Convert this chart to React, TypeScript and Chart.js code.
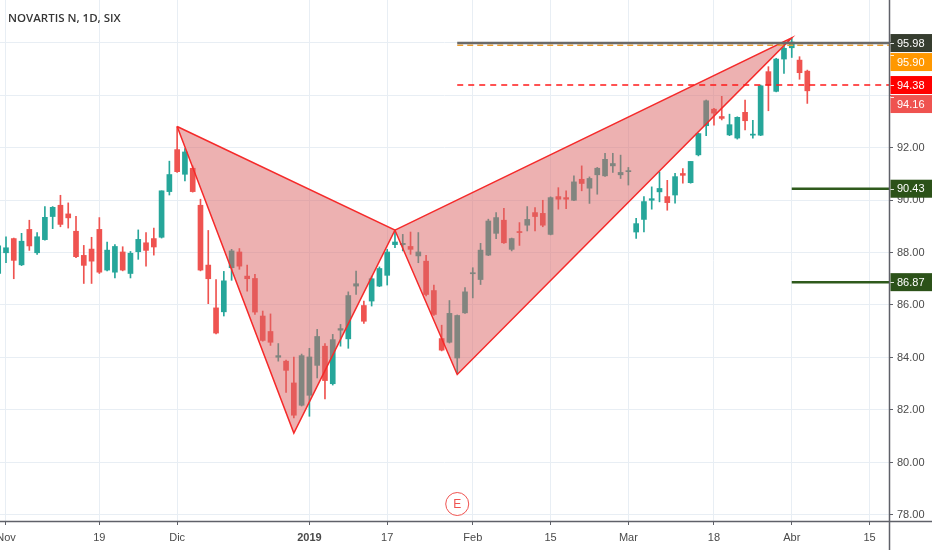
import React, { useEffect, useRef } from "react";
import { Chart, registerables } from "chart.js";

Chart.register(...registerables);

// ---- Data (trading-day index, 0 = 1 Nov 2018) ----
const FIRST_INDEX = -1;
const OPEN = [
  87.2, 87.99, 88.53, 87.53, 88.88, 87.99, 88.49, 89.37, 89.8, 89.47, 88.81, 87.89, 88.13, 88.88, 87.33, 87.25,
  88.02, 87.2, 88.03, 88.37, 88.53, 88.58, 90.32, 91.92, 90.98, 91.21, 89.8, 87.52, 85.89, 85.74, 87.42, 88.02,
  87.1, 87.01, 85.58, 84.99, 84.01, 83.86, 83.03, 82.18, 82.56, 83.7, 84.43, 83.0, 85.04, 84.71, 86.72, 85.98,
  86.15, 86.72, 87.13, 88.3, 88.3, 88.23, 87.87, 87.67, 86.55, 84.72, 84.58, 83.98, 85.7, 87.19, 86.97, 87.9,
  88.73, 89.23, 88.12, 88.79, 89.04, 89.52, 89.49, 88.69, 90.13, 90.09, 89.99, 90.79, 90.45, 90.96, 90.92, 91.3,
  90.96, 91.08, 88.78, 89.26, 89.99, 90.31, 90.13, 90.19, 91.01, 90.66, 91.72, 92.83, 93.46, 93.18, 92.48, 92.36,
  93.34, 92.47, 92.47, 94.89, 94.14, 95.37, 95.8, 95.33, 94.91,
];
const HIGH = [
  88.4, 88.6, 88.55, 88.73, 89.23, 88.76, 89.75, 89.75, 90.18, 89.89, 89.38, 88.27, 88.58, 89.33, 88.4, 88.3,
  88.22, 88.04, 88.86, 88.76, 88.93, 90.35, 91.48, 92.8, 91.96, 91.3, 90.03, 88.84, 86.97, 87.28, 88.12, 88.15,
  87.52, 87.17, 85.77, 85.66, 84.53, 83.9, 84.02, 84.13, 84.35, 85.07, 84.53, 84.88, 85.26, 86.5, 87.29, 86.15,
  87.1, 87.45, 88.12, 88.85, 88.69, 88.78, 88.76, 87.89, 86.76, 85.23, 86.17, 85.62, 86.66, 87.42, 88.35, 89.27,
  89.52, 89.68, 88.55, 89.14, 89.75, 89.71, 89.99, 90.12, 90.47, 90.35, 90.92, 91.3, 90.88, 91.24, 91.78, 91.78,
  91.71, 91.24, 89.3, 90.13, 90.5, 91.07, 90.75, 91.02, 91.2, 91.47, 92.55, 93.81, 93.49, 93.95, 93.27, 93.17,
  93.81, 93.04, 94.38, 95.08, 95.4, 95.94, 96.16, 95.46, 94.95,
];
const LOW = [
  86.9, 87.61, 87.0, 87.5, 88.08, 87.93, 88.47, 88.91, 88.98, 88.93, 87.8, 86.82, 86.82, 87.2, 87.3, 87.03,
  87.3, 87.03, 87.74, 87.48, 87.9, 88.55, 90.19, 91.05, 90.73, 90.3, 87.3, 86.05, 84.9, 85.58, 86.94, 87.36,
  86.53, 85.64, 84.62, 84.46, 83.86, 82.67, 81.7, 82.15, 81.76, 83.22, 82.42, 82.95, 84.43, 84.35, 86.4, 85.3,
  85.96, 86.7, 86.76, 88.18, 88.06, 87.93, 87.61, 86.35, 85.6, 84.25, 84.55, 83.4, 85.68, 86.27, 86.78, 87.88,
  88.53, 88.35, 88.06, 88.27, 88.82, 88.82, 88.98, 88.67, 89.65, 89.67, 89.97, 90.35, 89.87, 90.22, 90.9, 91.05,
  90.82, 90.57, 88.54, 88.78, 89.65, 89.93, 89.61, 89.88, 90.64, 90.64, 91.68, 92.45, 92.85, 93.05, 92.45, 92.32,
  92.67, 92.36, 92.45, 93.4, 94.12, 94.82, 95.43, 94.6, 93.68,
];
const CLOSE = [
  88.25, 88.18, 87.7, 88.43, 88.25, 88.6, 89.34, 89.72, 89.07, 89.32, 87.84, 87.51, 87.67, 87.25, 88.09, 88.23,
  87.33, 87.97, 88.5, 88.08, 88.21, 90.35, 90.97, 91.08, 91.83, 90.32, 87.33, 87.0, 84.93, 86.92, 88.06, 87.48,
  87.0, 85.73, 84.65, 84.58, 84.07, 83.51, 81.8, 84.07, 84.02, 84.8, 83.12, 84.68, 85.1, 86.36, 86.81, 85.38,
  87.0, 87.39, 88.02, 88.4, 88.35, 88.12, 88.02, 86.4, 85.64, 84.28, 85.68, 85.6, 86.5, 87.23, 88.09, 89.2,
  89.33, 88.37, 88.53, 88.76, 89.26, 89.37, 89.04, 90.09, 90.03, 90.03, 90.69, 90.63, 90.82, 91.21, 91.55, 91.39,
  91.05, 91.11, 89.1, 89.94, 90.05, 90.44, 89.9, 90.89, 90.94, 91.47, 92.53, 93.78, 93.31, 93.11, 92.87, 93.15,
  93.02, 92.51, 94.35, 94.38, 95.37, 95.78, 96.02, 94.85, 94.16,
];

const X_TICKS = [0, 12, 22, 39, 49, 60, 70, 80, 91, 101, 111];
const X_LABELS = ["Nov", "19", "Dic", "2019", "17", "Feb", "15", "Mar", "18", "Abr", "15"];
const Y_TICKS = [78, 80, 82, 84, 86, 88, 90, 92, 94, 96];
const Y_HIDDEN = [94, 96];

// XABCD pattern points
const PATTERN_X = [22, 37, 50, 58, 101];
const PATTERN_Y = [92.8, 81.12, 88.85, 83.35, 96.18];

// Horizontal levels
const LEVEL_VALUES = [95.98, 95.9, 94.38, 94.16, 90.43, 86.87];
const LEVEL_START = [58, 58, 58, null, 101, 101];
const EARNINGS_X = [58];

// ---- Styles ----
const X_MIN = -0.77;
const X_MAX = 113.5;
const Y_MIN = 77.77;
const Y_MAX = 97.62;
const UP = "#26a69a";
const DOWN = "#ef5350";
const LEVEL_STYLE = [
  { line: "#6a6a6a", width: 2.5, dash: [] as number[], box: "#363d2f" },
  { line: "#f0a030", width: 1.5, dash: [6, 4], box: "#ff9800" },
  { line: "#ff1a1a", width: 1.5, dash: [6, 5], box: "#ff0000" },
  { line: "", width: 0, dash: [] as number[], box: "#ef5350" },
  { line: "#2f5a1c", width: 2.5, dash: [] as number[], box: "#2c5219" },
  { line: "#2f5a1c", width: 2.5, dash: [] as number[], box: "#2c5219" },
];
const FONT = "'Liberation Sans', Arial, sans-serif";

const zeroPad = (s: any) => {
  s.paddingLeft = 0;
  s.paddingRight = 0;
  s.paddingTop = 0;
  s.paddingBottom = 0;
};

const overlayPlugin = {
  id: "overlay",
  afterDraw(chart: any) {
    const { ctx, chartArea } = chart;
    const x = chart.scales.x;
    const y = chart.scales.y;
    ctx.save();
    // axis lines
    ctx.strokeStyle = "#5f6169";
    ctx.lineWidth = 1.5;
    ctx.beginPath();
    ctx.moveTo(0, chartArea.bottom + 0.5);
    ctx.lineTo(chart.width, chartArea.bottom + 0.5);
    ctx.moveTo(chartArea.right + 0.5, 0);
    ctx.lineTo(chartArea.right + 0.5, chart.height);
    ctx.stroke();

    // price boxes
    const H = 18;
    const boxes = LEVEL_VALUES.map((v, i) => ({ v, bg: LEVEL_STYLE[i].box, py: y.getPixelForValue(v) })).sort(
      (a, b) => a.py - b.py
    );
    let prevBottom = -Infinity;
    ctx.font = `11px ${FONT}`;
    ctx.textBaseline = "middle";
    ctx.textAlign = "left";
    for (const b of boxes) {
      let top = b.py - H / 2;
      if (top < prevBottom) top = prevBottom + 1;
      ctx.fillStyle = b.bg;
      ctx.fillRect(chartArea.right + 1.5, top, chart.width - chartArea.right, H);
      ctx.strokeStyle = "rgba(255,255,255,0.85)";
      ctx.lineWidth = 1;
      const ty = Math.min(Math.max(b.py, top + 2), top + H - 2);
      ctx.beginPath();
      ctx.moveTo(chartArea.right + 1.5, Math.round(ty) + 0.5);
      ctx.lineTo(chartArea.right + 5, Math.round(ty) + 0.5);
      ctx.stroke();
      ctx.fillStyle = "#ffffff";
      ctx.fillText(b.v.toFixed(2), chartArea.right + 8, top + H / 2 + 0.5);
      prevBottom = top + H;
    }

    // earnings marker
    for (const e of EARNINGS_X) {
      const cx = x.getPixelForValue(e);
      const cy = chartArea.bottom - 17;
      ctx.beginPath();
      ctx.arc(cx, cy, 11.5, 0, Math.PI * 2);
      ctx.fillStyle = "#ffffff";
      ctx.fill();
      ctx.strokeStyle = "#ef5350";
      ctx.lineWidth = 1;
      ctx.stroke();
      ctx.fillStyle = "#ef5350";
      ctx.font = `12px ${FONT}`;
      ctx.textAlign = "center";
      ctx.textBaseline = "middle";
      ctx.fillText("E", cx, cy + 0.5);
    }
    ctx.restore();
  },
};

export default function App() {
  const canvasRef = useRef<HTMLCanvasElement | null>(null);

  useEffect(() => {
    const canvas = canvasRef.current;
    if (!canvas) return;

    const colors = OPEN.map((o, i) => (CLOSE[i] >= o ? UP : DOWN));
    const wickData = OPEN.map((_, i) => ({ x: FIRST_INDEX + i, y: [LOW[i], HIGH[i]] }));
    const bodyData = OPEN.map((o, i) => ({ x: FIRST_INDEX + i, y: [o, CLOSE[i]] }));

    const tri = (ids: number[]) => ids.map((k) => ({ x: PATTERN_X[k], y: PATTERN_Y[k] }));

    const levelSets: any[] = [];
    LEVEL_VALUES.forEach((v, i) => {
      const s = LEVEL_START[i];
      if (s === null) return;
      const st = LEVEL_STYLE[i];
      levelSets.push({
        type: "line",
        data: [
          { x: s, y: v },
          { x: X_MAX, y: v },
        ],
        borderColor: st.line,
        borderWidth: st.width,
        borderDash: st.dash,
        pointRadius: 0,
        fill: false,
        order: i === 0 ? 0 : 1,
      });
    });

    const patternStyle = {
      type: "line",
      borderColor: "#f52a2a",
      borderWidth: 1.5,
      backgroundColor: "rgba(220,100,100,0.5)",
      fill: "shape",
      pointRadius: 0,
      tension: 0,
      order: 2,
    };

    const chart = new Chart(canvas, {
      type: "bar",
      data: {
        datasets: [
          {
            type: "bar",
            data: wickData as any,
            backgroundColor: colors,
            barThickness: 1,
            grouped: false,
            order: 10,
          } as any,
          {
            type: "bar",
            data: bodyData as any,
            backgroundColor: colors,
            barThickness: 5,
            minBarLength: 1,
            grouped: false,
            order: 9,
          } as any,
          { ...patternStyle, data: tri([0, 1, 2, 0]) } as any,
          { ...patternStyle, data: tri([2, 3, 4, 2]) } as any,
          ...levelSets,
        ],
      },
      options: {
        animation: false,
        responsive: false,
        events: [],
        layout: { padding: 0, autoPadding: false },
        plugins: { legend: { display: false }, tooltip: { enabled: false }, title: { display: false } },
        scales: {
          x: {
            type: "linear",
            min: X_MIN,
            max: X_MAX,
            offset: false,
            afterBuildTicks: (s: any) => {
              s.ticks = X_TICKS.map((v) => ({ value: v }));
            },
            afterFit: (s: any) => {
              s.height = 29;
              zeroPad(s);
            },
            ticks: {
              autoSkip: false,
              maxRotation: 0,
              padding: 6,
              color: "#4a4a4a",
              font: (c: any) => ({
                family: FONT,
                size: 11,
                weight: c.tick && X_TICKS.indexOf(c.tick.value) === 3 ? "bold" : "normal",
              }),
              callback: (v: any) => {
                const k = X_TICKS.indexOf(v);
                return k >= 0 ? X_LABELS[k] : "";
              },
            },
            grid: { color: "#e8eef4", tickColor: "#5f6169", tickLength: 4, offset: false, lineWidth: 1 },
            border: { display: false },
          },
          y: {
            type: "linear",
            position: "right",
            min: Y_MIN,
            max: Y_MAX,
            afterBuildTicks: (s: any) => {
              s.ticks = Y_TICKS.map((v) => ({ value: v }));
            },
            afterFit: (s: any) => {
              s.width = 43;
              zeroPad(s);
            },
            ticks: {
              padding: 4,
              color: "#4a4a4a",
              font: { family: FONT, size: 11 },
              callback: (v: any) => (Y_HIDDEN.includes(v) ? "" : Number(v).toFixed(2)),
            },
            grid: { color: "#e8eef4", tickColor: "#5f6169", tickLength: 4, lineWidth: 1 },
            border: { display: false },
          },
        },
      } as any,
      plugins: [overlayPlugin],
    });
    return () => chart.destroy();
  }, []);

  return (
    <div style={{ position: "fixed", left: 0, top: 0, width: 932, height: 550, background: "#ffffff" }}>
      <canvas ref={canvasRef} width={932} height={550} style={{ display: "block" }} />
      <div
        style={{
          position: "absolute",
          left: 8,
          top: 11,
          fontFamily: "'Open Sans', 'Noto Sans', sans-serif",
          fontWeight: 600,
          fontSize: 11.5,
          color: "#363636",
          lineHeight: "14px",
          whiteSpace: "nowrap",
        }}
      >
        NOVARTIS N, 1D, SIX
      </div>
    </div>
  );
}
